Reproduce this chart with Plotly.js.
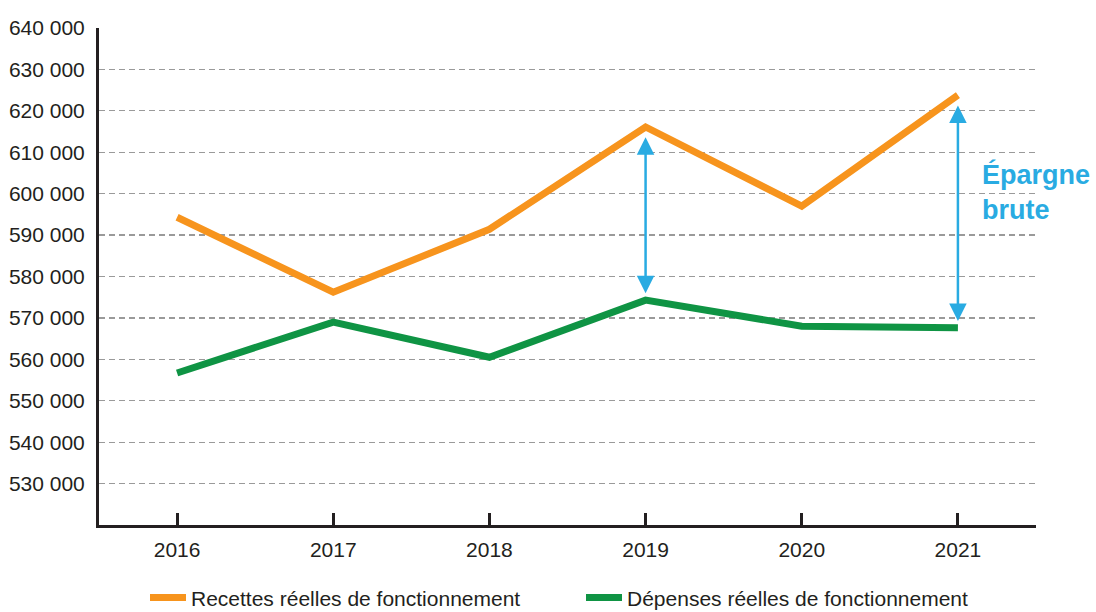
<!DOCTYPE html>
<html>
<head>
<meta charset="utf-8">
<script src="https://cdn.plot.ly/plotly-3.0.1.min.js"></script>
<style>html,body{margin:0;padding:0;background:#fff;}#chart{width:1096px;height:612px;}</style>
</head>
<body>
<div id="chart"></div>
<script>
const years = [2016, 2017, 2018, 2019, 2020, 2021];
const recettes = [594300, 576200, 591400, 616100, 597000, 623800];
const depenses = [556700, 569000, 560500, 574300, 568000, 567600];
const yTicks = [530000, 540000, 550000, 560000, 570000, 580000, 590000, 600000, 610000, 620000, 630000, 640000];
const seriesNames = ['Recettes réelles de fonctionnement', 'Dépenses réelles de fonctionnement'];
const arrowYears = [2019, 2021];
const annotationText = 'Épargne<br>brute';

const FONT = 'Liberation Sans, Arial, sans-serif';
const INK = '#231f20';
const BLUE = '#29abe2';

const traces = [
  {x: years, y: recettes, name: seriesNames[0], type: 'scatter', mode: 'lines',
   line: {color: '#f7941d', width: 7}, legend: 'legend'},
  {x: years, y: depenses, name: seriesNames[1], type: 'scatter', mode: 'lines',
   line: {color: '#0f9444', width: 7}, legend: 'legend2'}
];

const gapTop = 2500, gapBottom = 1300;
const annotations = arrowYears.map(yr => {
  const i = years.indexOf(yr);
  return {
    x: yr, y: recettes[i] - gapTop, ax: yr, ay: depenses[i] + gapBottom,
    xref: 'x', yref: 'y', axref: 'x', ayref: 'y',
    showarrow: true, arrowhead: 2, startarrowhead: 2, arrowside: 'end+start',
    arrowsize: 1.4, startarrowsize: 1.4, arrowwidth: 2.5, arrowcolor: BLUE, text: ''
  };
});
annotations.push({
  x: 2021.14, y: 600400, xref: 'x', yref: 'y', xanchor: 'left', yanchor: 'middle',
  text: '<b>' + annotationText + '</b>', align: 'left', showarrow: false,
  font: {family: FONT, size: 27, color: BLUE}
});

const legendBase = {orientation: 'h', xref: 'container', yref: 'container', xanchor: 'left', yanchor: 'middle',
  y: 0.023, bgcolor: 'rgba(0,0,0,0)', font: {family: FONT, size: 21, color: INK}, itemwidth: 36};

const layout = {
  width: 1096, height: 612,
  margin: {l: 99, r: 60, t: 28, b: 87, autoexpand: false},
  paper_bgcolor: '#fff', plot_bgcolor: '#fff',
  separators: ', ',
  font: {family: FONT, size: 21, color: INK},
  showlegend: true,
  legend: Object.assign({}, legendBase, {x: 145 / 1096}),
  legend2: Object.assign({}, legendBase, {x: 581 / 1096}),
  xaxis: {range: [2015.5, 2021.5], tickvals: years, ticktext: years.map(String),
          showline: true, linecolor: INK, linewidth: 3, showgrid: false, zeroline: false,
          ticks: 'inside', ticklen: 12, tickwidth: 3, tickcolor: INK,
          tickfont: {family: FONT, size: 21, color: INK}, ticklabelstandoff: 4},
  yaxis: {range: [520000, 640000], tickvals: yTicks, tickformat: ',d',
          showline: true, linecolor: INK, linewidth: 3, zeroline: false,
          showgrid: true, gridcolor: '#9a9a9a', gridwidth: 1.2, griddash: '6px,4px',
          ticks: '', tickfont: {family: FONT, size: 21, color: INK}, ticklabelstandoff: 7},
  annotations: annotations
};

Plotly.newPlot('chart', traces, layout, {displayModeBar: false, staticPlot: true});
</script>
</body>
</html>
